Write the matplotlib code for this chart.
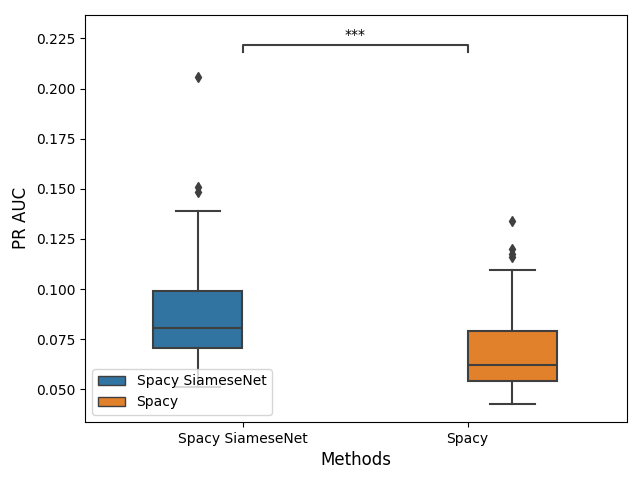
import numpy as np
import matplotlib
matplotlib.use('Agg')
import matplotlib.pyplot as plt
from matplotlib.patches import Patch

# box statistics (PR AUC)
methods = ['Spacy SiameseNet', 'Spacy']
q1 = [0.0704, 0.0540]
med = [0.0805, 0.0620]
q3 = [0.0989, 0.0789]
whislo = [0.0510, 0.0425]
whishi = [0.1387, 0.1093]
fliers = [[0.2055, 0.1507, 0.1482],
          [0.1342, 0.1198, 0.1173, 0.1160]]
colors = ['#3274a1', '#e1812c']
offsets = [-0.2, 0.2]
sig_label = '***'

gray = '#3f3f3f'

fig, ax = plt.subplots(figsize=(6.4, 4.8), dpi=100)

for i in range(len(methods)):
    stats = [dict(med=med[i], q1=q1[i], q3=q3[i], whislo=whislo[i],
                  whishi=whishi[i], fliers=fliers[i])]
    ax.bxp(stats, positions=[i + offsets[i]], widths=0.392, patch_artist=True,
           manage_ticks=False, capwidths=0.196,
           boxprops=dict(facecolor=colors[i], edgecolor=gray, linewidth=1.5),
           medianprops=dict(color=gray, linewidth=1.5),
           whiskerprops=dict(color=gray, linewidth=1.5),
           capprops=dict(color=gray, linewidth=1.5),
           flierprops=dict(marker='d', markerfacecolor=gray, markeredgecolor=gray,
                           markersize=5))

# significance bracket
y_top = 0.2216
y_low = 0.2181
ax.plot([0, 0, 1, 1], [y_low, y_top, y_top, y_low], color=gray, linewidth=1.5)
ax.text(0.5, y_top + 0.0015, sig_label, ha='center', va='bottom', fontsize=10)

ax.set_xticks([0, 1])
ax.set_xticklabels(methods)
ax.set_xlim(-0.7, 1.71)
ax.set_ylim(0.0338, 0.2367)
ax.set_xlabel('Methods', fontsize=12)
ax.set_ylabel('PR AUC', fontsize=12)

handles = [Patch(facecolor=c, edgecolor=gray, label=m) for c, m in zip(colors, methods)]
ax.legend(handles=handles, loc='lower left')

fig.subplots_adjust(left=0.133, right=0.98, top=0.969, bottom=0.121)
fig.savefig('out.png', dpi=100)
